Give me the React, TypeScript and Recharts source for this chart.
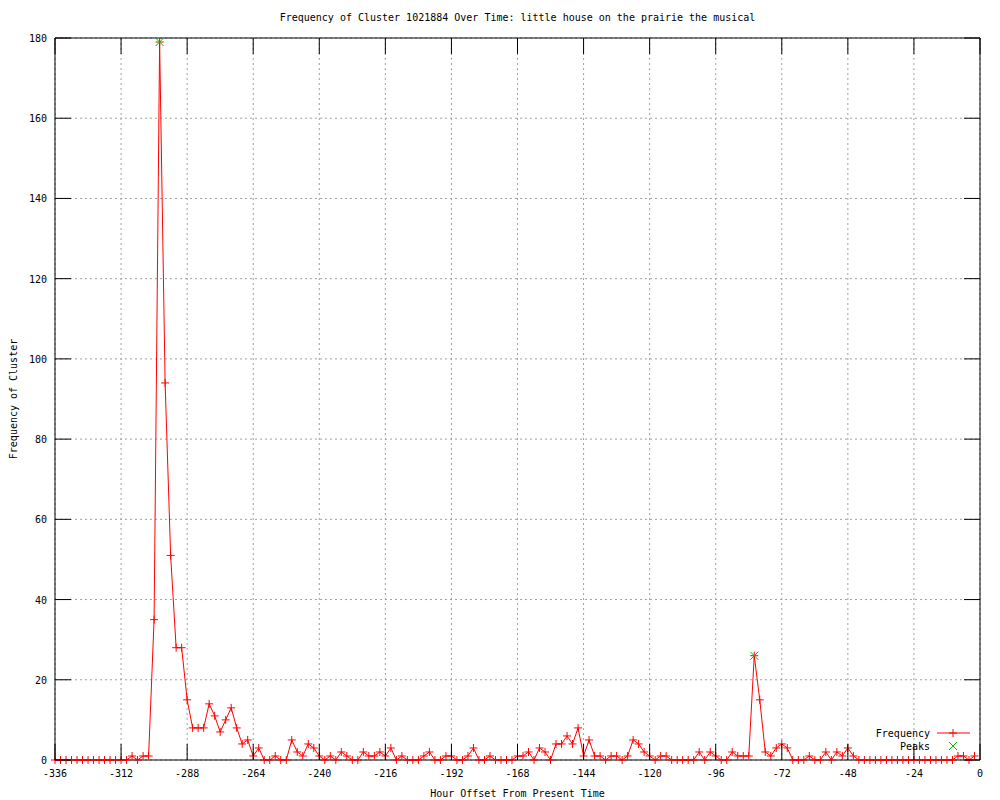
import { CartesianGrid, Legend, Line, LineChart, XAxis, YAxis } from 'recharts';

const FONT = '"DejaVu Sans Mono", monospace';

// hourly buckets, 2h apart, starting at -336
const START_HOUR = -336;
const STEP = 2;

const frequency = [
  0, 0, 0, 0, 0, 0, 0, 0, 0, 0, 0, 0, 0, 0,
  1, 0, 1, 1, 35, 179, 94, 51, 28, 28,
  15, 8, 8, 8, 14, 11, 7, 10, 13, 8,
  4, 5, 1, 3, 0, 0, 1, 0, 0, 5,
  2, 1, 4, 3, 1, 0, 1, 0, 2, 1,
  0, 0, 2, 1, 1, 2, 1, 3, 0, 1,
  0, 0, 0, 1, 2, 0, 0, 1, 1, 0,
  0, 1, 3, 0, 0, 1, 0, 0, 0, 0,
  1, 1, 2, 0, 3, 2, 0, 4, 4, 6,
  4, 8, 1, 5, 1, 1, 0, 1, 1, 0,
  1, 5, 4, 2, 1, 0, 1, 1, 0, 0,
  0, 0, 0, 2, 0, 2, 1, 0, 0, 2,
  1, 1, 1, 26, 15, 2, 1, 3, 4, 3,
  0, 0, 0, 1, 0, 0, 2, 0, 2, 1,
  3, 1,
  0, 0, 0, 0, 0, 0, 0, 0, 0, 0, 0, 0, 0, 0, 0, 0, 0, 0,
  1, 1, 0, 1,
];

const peakHours = [-298, -82];
const peakValues = [179, 26];

const xTicks = [-336, -312, -288, -264, -240, -216, -192, -168, -144, -120, -96, -72, -48, -24, 0];
const yTicks = [0, 20, 40, 60, 80, 100, 120, 140, 160, 180];

const hours = frequency.map((_, i) => START_HOUR + i * STEP);

const data = hours.map((hour, i) => {
  const p = peakHours.indexOf(hour);
  return { hour, freq: frequency[i], peak: p >= 0 ? peakValues[p] : null };
});

const TICK = 16;

function BottomTick({ x, y, payload }: any) {
  return (
    <g>
      <line x1={x} x2={x} y1={y} y2={y - TICK} stroke="#000" />
      <text x={x} y={y + 17} textAnchor="middle" fontSize={10} fontFamily={FONT} fill="#000">
        {payload.value}
      </text>
    </g>
  );
}

function TopTick({ x, y }: any) {
  return <line x1={x} x2={x} y1={y} y2={y + TICK} stroke="#000" />;
}

function LeftTick({ x, y, payload }: any) {
  return (
    <g>
      <line x1={x} x2={x + TICK} y1={y} y2={y} stroke="#000" />
      <text x={x - 8} y={y + 4} textAnchor="end" fontSize={10} fontFamily={FONT} fill="#000">
        {payload.value}
      </text>
    </g>
  );
}

function RightTick({ x, y }: any) {
  return <line x1={x} x2={x - TICK} y1={y} y2={y} stroke="#000" />;
}

function PlusDot({ cx, cy }: any) {
  if (cx == null || cy == null) return <g />;
  return (
    <path d={`M${cx - 4},${cy}H${cx + 4}M${cx},${cy - 4}V${cy + 4}`} stroke="#ff0000" strokeWidth={1} fill="none" />
  );
}

function CrossDot({ cx, cy, value }: any) {
  if (value == null || cx == null || cy == null) return <g />;
  return (
    <path
      d={`M${cx - 4},${cy - 4}L${cx + 4},${cy + 4}M${cx - 4},${cy + 4}L${cx + 4},${cy - 4}`}
      stroke="#00c000"
      strokeWidth={1}
      fill="none"
    />
  );
}

function LegendBox() {
  return (
    <svg width={130} height={30} style={{ display: 'block' }}>
      <text x={80} y={12} textAnchor="end" fontSize={10} fontFamily={FONT}>Frequency</text>
      <line x1={87} x2={120} y1={8} y2={8} stroke="#ff0000" />
      <path d="M103,4V12M99,8H107" stroke="#ff0000" />
      <text x={80} y={25} textAnchor="end" fontSize={10} fontFamily={FONT}>Peaks</text>
      <path d="M99,17L107,25M99,25L107,17" stroke="#00c000" />
    </svg>
  );
}

function YLabel({ viewBox }: any) {
  const cx = viewBox.x + 13;
  const cy = viewBox.y + viewBox.height / 2;
  return (
    <text
      x={cx}
      y={cy}
      transform={`rotate(-90 ${cx} ${cy})`}
      textAnchor="middle"
      dominantBaseline="central"
      fontSize={10}
      fontFamily={FONT}
      fill="#000"
    >
      Frequency of Cluster
    </text>
  );
}

export default function App() {
  return (
    <div style={{ position: 'absolute', left: 0, top: 0, width: 1000, height: 800, background: '#fff' }}>
      <div
        style={{
          position: 'absolute',
          left: 55,
          top: 12,
          width: 925,
          textAlign: 'center',
          fontFamily: FONT,
          fontSize: 10,
          lineHeight: '12px',
        }}
      >
        Frequency of Cluster 1021884 Over Time: little house on the prairie the musical
      </div>
      <LineChart width={1000} height={800} data={data} margin={{ top: 8, right: 0, bottom: 0, left: 0 }}>
        <CartesianGrid
          xAxisId="bottom"
          yAxisId="left"
          stroke="#a0a0a0"
          strokeDasharray="2 3"
          horizontalValues={yTicks}
          verticalValues={xTicks}
        />
        <XAxis
          xAxisId="bottom"
          dataKey="hour"
          type="number"
          domain={[-336, 0]}
          ticks={xTicks}
          interval={0}
          height={40}
          tickSize={0}
          tickMargin={0}
          tickLine={false}
          axisLine={{ stroke: '#000' }}
          tick={<BottomTick />}
          label={{
            value: 'Hour Offset From Present Time',
            position: 'insideBottom',
            offset: 3,
            fontSize: 10,
            fontFamily: FONT,
            fill: '#000',
          }}
        />
        <XAxis
          xAxisId="top"
          orientation="top"
          dataKey="hour"
          type="number"
          domain={[-336, 0]}
          ticks={xTicks}
          interval={0}
          height={30}
          tickSize={0}
          tickMargin={0}
          tickLine={false}
          axisLine={{ stroke: '#000' }}
          tick={<TopTick />}
        />
        <YAxis
          yAxisId="left"
          type="number"
          domain={[0, 180]}
          ticks={yTicks}
          interval={0}
          width={55}
          tickSize={0}
          tickMargin={0}
          tickLine={false}
          axisLine={{ stroke: '#000' }}
          tick={<LeftTick />}
          label={<YLabel />}
        />
        <YAxis
          yAxisId="right"
          orientation="right"
          type="number"
          domain={[0, 180]}
          ticks={yTicks}
          interval={0}
          width={20}
          tickSize={0}
          tickMargin={0}
          tickLine={false}
          axisLine={{ stroke: '#000' }}
          tick={<RightTick />}
        />
        <Legend
          layout="horizontal"
          verticalAlign="middle"
          align="center"
          content={<LegendBox />}
          wrapperStyle={{ position: 'absolute', left: 850, top: 725, width: 130, height: 30 }}
        />
        <Line
          xAxisId="bottom"
          yAxisId="left"
          dataKey="freq"
          name="Frequency"
          type="linear"
          stroke="#ff0000"
          strokeWidth={1}
          dot={<PlusDot />}
          activeDot={false}
          isAnimationActive={false}
        />
        <Line
          xAxisId="top"
          yAxisId="right"
          dataKey="peak"
          name="Peaks"
          stroke="none"
          dot={<CrossDot />}
          activeDot={false}
          connectNulls={false}
          isAnimationActive={false}
        />
      </LineChart>
    </div>
  );
}
